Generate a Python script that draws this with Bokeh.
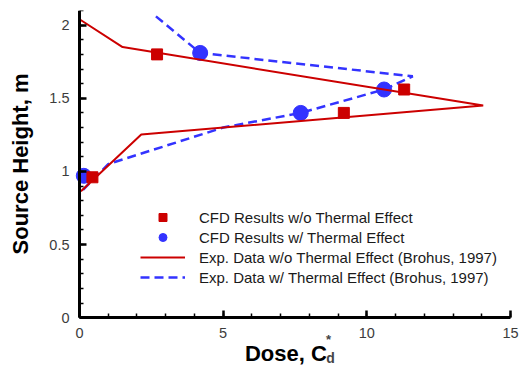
import numpy as np
from bokeh.plotting import figure
from bokeh.models import Range1d, FixedTicker, Legend, LegendItem, Label
from bokeh.embed import file_html
from bokeh.resources import INLINE

# ---- data ----
cfd_no_thermal_x = [2.7, 11.3, 9.2, 0.45]
cfd_no_thermal_y = [1.80, 1.56, 1.40, 0.96]

cfd_thermal_x = [4.2, 10.6, 7.7, 0.15]
cfd_thermal_y = [1.81, 1.56, 1.40, 0.97]

exp_no_thermal_x = [0.0, 1.5, 14.05, 2.15, 0.05]
exp_no_thermal_y = [2.04, 1.85, 1.45, 1.253, 0.865]

exp_thermal_x = [2.66, 4.2, 11.6, 10.6, 7.7, 5.0, 1.0, 0.05]
exp_thermal_y = [2.06, 1.81, 1.65, 1.56, 1.40, 1.30, 1.05, 0.86]

x_ticks = [0, 5, 10, 15]
x_tick_labels = ["0", "5", "10", "15"]
y_ticks = [0, 0.5, 1, 1.5, 2]
y_tick_labels = ["0", "0.5", "1", "1.5", "2"]

legend_labels = [
    "CFD Results w/o Thermal Effect",
    "CFD Results w/ Thermal Effect",
    "Exp. Data w/o Thermal Effect (Brohus, 1997)",
    "Exp. Data w/ Thermal Effect (Brohus, 1997)",
]

RED = "#cc0000"
BLUE = "#3333ff"
FONT = "Liberation Sans"

# frame spans the whole canvas; the axes are pinned at x=0 / y=0 so that
# texts beside them are not clipped
p = figure(width=522, height=368, output_backend="svg", toolbar_location=None,
           x_range=Range1d(-2.749, 15.418), y_range=Range1d(-0.347, 2.1),
           min_border_left=0, min_border_right=0, min_border_top=10,
           min_border_bottom=0)
p.outline_line_color = None
p.grid.visible = False
p.background_fill_color = "white"

blue_line = p.line(exp_thermal_x, exp_thermal_y, line_color=BLUE, line_width=2.5,
                   line_dash="9 5")
blue_pts = p.scatter(cfd_thermal_x, cfd_thermal_y, marker="circle", size=15,
                     fill_color=BLUE, line_color=BLUE)
red_line = p.line(exp_no_thermal_x, exp_no_thermal_y, line_color=RED, line_width=2)
red_pts = p.scatter(cfd_no_thermal_x, cfd_no_thermal_y, marker="square", size=11,
                    fill_color=RED, line_color=RED)

xa = p.xaxis[0]
ya = p.yaxis[0]
xa.fixed_location = 0
ya.fixed_location = 0
xa.bounds = (0, 15)
ya.bounds = (0, 2.1)
xa.ticker = FixedTicker(ticks=x_ticks, minor_ticks=list(np.arange(0, 15.01, 1.0)))
ya.ticker = FixedTicker(ticks=y_ticks, minor_ticks=list(np.round(np.arange(0, 2.11, 0.1), 2)))
xa.major_label_overrides = {t: l for t, l in zip(x_ticks, x_tick_labels)}
ya.major_label_overrides = {t: l for t, l in zip(y_ticks, y_tick_labels)}

for ax in (xa, ya):
    ax.axis_line_width = 3
    ax.axis_line_color = "black"
    ax.major_tick_in = 7
    ax.major_tick_out = 0
    ax.minor_tick_in = 4
    ax.minor_tick_out = 0
    ax.major_tick_line_width = 2.5
    ax.minor_tick_line_width = 1.5
    ax.major_label_text_font = FONT
    ax.major_label_text_font_size = "14.5px"
    ax.major_label_text_color = "#3c3c3c"
    ax.axis_label_text_font = FONT
    ax.axis_label_text_font_size = "22px"
    ax.axis_label_text_font_style = "bold"
    ax.axis_label_text_color = "black"

xa.major_label_standoff = 10
ya.major_label_standoff = 10
xa.axis_label = "Dose, C\u00a0\u00a0\u00a0"
ya.axis_label = "Source Height, m"
xa.axis_label_standoff = 0
ya.axis_label_standoff = 13

p.add_layout(Label(x=8.67, y=-0.148, text="*",
                   text_font=FONT, text_font_size="13px", text_font_style="bold",
                   text_align="center", text_baseline="middle"))
p.add_layout(Label(x=8.74, y=-0.275, text="d",
                   text_font=FONT, text_font_size="14px", text_font_style="bold",
                   text_align="center", text_baseline="middle"))

legend = Legend(items=[
    LegendItem(label=legend_labels[0], renderers=[red_pts]),
    LegendItem(label=legend_labels[1], renderers=[blue_pts]),
    LegendItem(label=legend_labels[2], renderers=[red_line]),
    LegendItem(label=legend_labels[3], renderers=[blue_line]),
], location=(140, 81))
legend.glyph_width = 45
legend.glyph_height = 20
legend.label_height = 20
legend.label_standoff = 14
legend.spacing = 0
legend.padding = 0
legend.margin = 0
legend.border_line_color = None
legend.background_fill_alpha = 0
legend.label_text_font = FONT
legend.label_text_font_size = "15px"
legend.label_text_color = "#1a1a1a"
p.add_layout(legend)

open("out.html", "w").write(file_html(p, INLINE))
